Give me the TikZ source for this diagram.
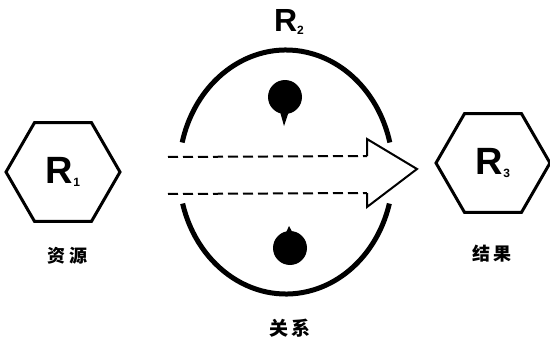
\documentclass[tikz,border=0pt]{standalone}
\usepackage{fontspec}
\setmainfont{Liberation Sans}
\newfontfamily\cjk{Noto Sans CJK SC}
\usetikzlibrary{shapes.geometric}
\newcommand{\lowidx}[1]{\raisebox{-3pt}{\fontsize{12}{12}\selectfont\bfseries #1}}

\begin{document}
\begin{tikzpicture}[x=1pt,y=-1pt,
    hexbox/.style={draw,line width=3pt,regular polygon,regular polygon sides=6,
      minimum size=114pt,inner sep=0pt,font=\fontsize{38}{40}\selectfont\bfseries},
    cnlabel/.style={font=\cjk\bfseries\fontsize{18}{20}\selectfont},
    flow/.style={line width=2pt,dash pattern=on 10pt off 5pt},
    loopline/.style={line width=5pt}]
  \useasboundingbox (0,0) rectangle (550,340);
  % resource and result
  \node[hexbox] (res) at (63,172) {R\lowidx{1}};
  \node[cnlabel] (reslabel) at (68,256) {资\hspace{4pt}源};
  \node[hexbox] (out) at (493,163) {R\lowidx{3}};
  \node[cnlabel] (outlabel) at (492,254) {结\hspace{4pt}果};
  % relation ring
  \coordinate (ring) at (286,172);
  \draw[loopline] ([shift={(166:107pt and 122pt)}]ring)
    arc[start angle=166,end angle=14,x radius=107pt,y radius=122pt];
  \draw[loopline] ([shift={(195:107pt and 122pt)}]ring)
    arc[start angle=195,end angle=345,x radius=107pt,y radius=122pt];
  \node[font=\fontsize{32}{34}\selectfont\bfseries] (rel) at (289,22) {R\lowidx{2}};
  \node[cnlabel,font=\cjk\bfseries\fontsize{19}{21}\selectfont] (rellabel) at (290,328) {关\hspace{4pt}系};
  % drops inside the ring
  \fill (285,97) circle (17pt);
  \fill (279,108) -- (284,126) -- (290,108) -- cycle;
  \fill (290,248) circle (17pt);
  \fill (284,237) -- (289,226) -- (295,237) -- cycle;
  % hollow arrow
  \coordinate (up) at (367,156);
  \coordinate (low) at (367,193);
  \draw[flow] (168,157) -- (up);
  \draw[flow] (168,194) -- (low);
  \draw[line width=2pt,line join=miter] (up) -- (367,139) -- (417,169) -- (367,207) -- (low);
\end{tikzpicture}
\end{document}
